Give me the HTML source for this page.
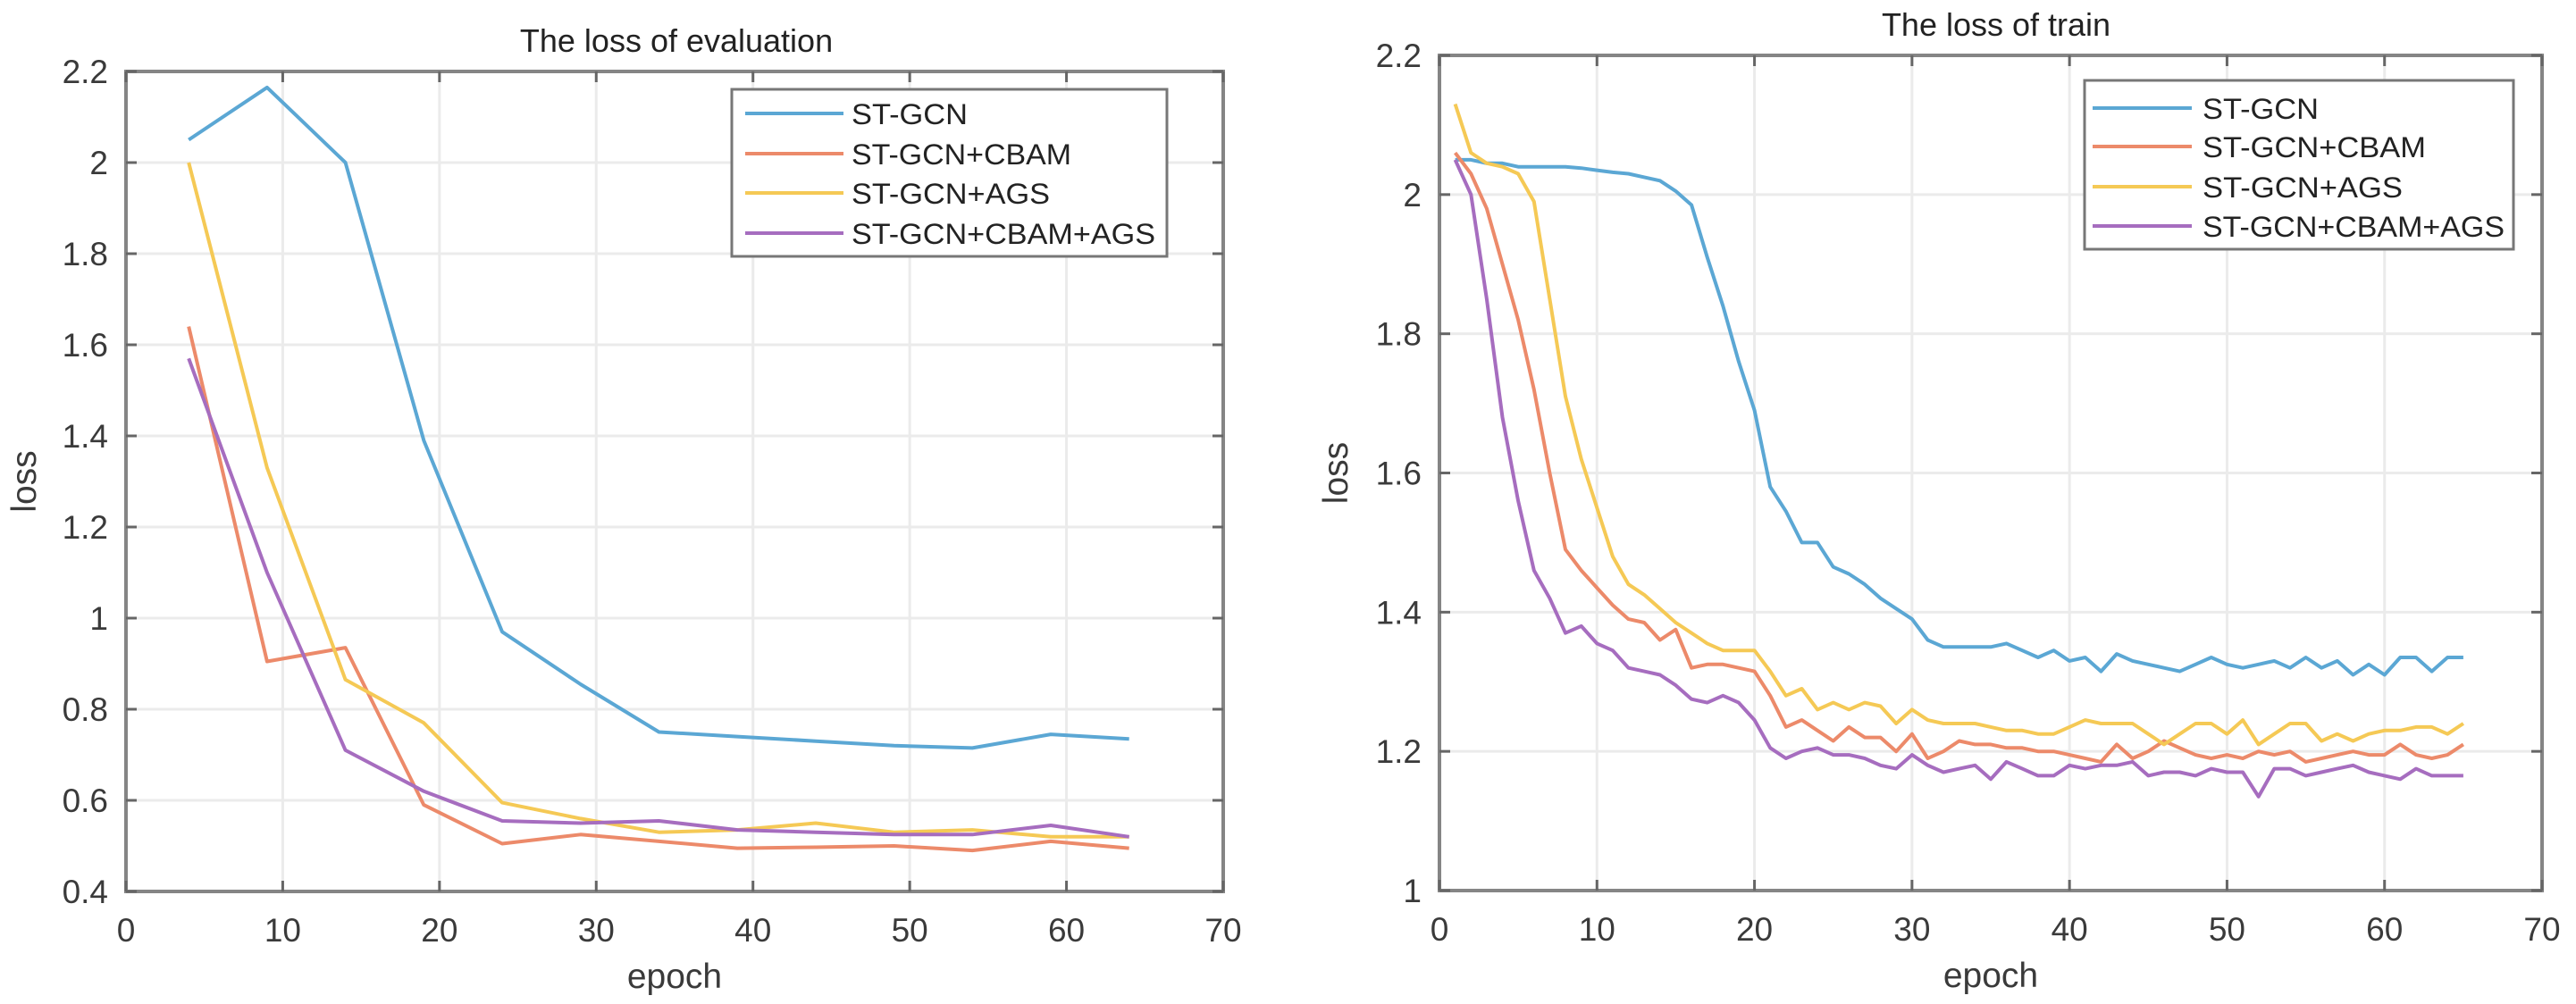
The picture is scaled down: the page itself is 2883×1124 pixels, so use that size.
<!DOCTYPE html>
<html><head><meta charset="utf-8"><style>
html,body{margin:0;padding:0;background:#fff;}
svg{display:block;font-family:"Liberation Sans",sans-serif;}
</style></head>
<body>
<svg id="chart" width="2883" height="1124" viewBox="0 0 2883 1124" xmlns="http://www.w3.org/2000/svg"></svg>
<script>
const seriesNames = ["ST-GCN","ST-GCN+CBAM","ST-GCN+AGS","ST-GCN+CBAM+AGS"];
const seriesColors = ["#5ba7d4","#ec8a6a","#f5c955","#a66dbf"];
const xTicks = [0,10,20,30,40,50,60,70];
const evalYTicks = [0.4,0.6,0.8,1,1.2,1.4,1.6,1.8,2,2.2];
const trainYTicks = [1,1.2,1.4,1.6,1.8,2,2.2];
const evalEpochs = [4,9,14,19,24,29,34,39,44,49,54,59,64];
const evalStgcn = [2.05,2.165,2.0,1.39,0.97,0.855,0.75,0.74,0.73,0.72,0.715,0.745,0.735];
const evalCbam = [1.64,0.905,0.935,0.59,0.505,0.525,0.51,0.495,0.497,0.50,0.49,0.51,0.495];
const evalAgs = [2.0,1.33,0.865,0.77,0.595,0.56,0.53,0.535,0.55,0.53,0.535,0.52,0.52];
const evalCbamAgs = [1.57,1.10,0.71,0.62,0.555,0.55,0.555,0.535,0.53,0.525,0.525,0.545,0.52];
const trainEpochs = [1,2,3,4,5,6,7,8,9,10,11,12,13,14,15,16,17,18,19,20,21,22,23,24,25,26,27,28,29,30,31,32,33,34,35,36,37,38,39,40,41,42,43,44,45,46,47,48,49,50,51,52,53,54,55,56,57,58,59,60,61,62,63,64,65];
const trainStgcn = [2.05,2.05,2.045,2.045,2.04,2.04,2.04,2.04,2.038,2.035,2.032,2.03,2.025,2.02,2.005,1.985,1.91,1.84,1.76,1.69,1.58,1.545,1.50,1.50,1.465,1.455,1.44,1.42,1.405,1.39,1.36,1.35,1.35,1.35,1.35,1.355,1.345,1.335,1.345,1.33,1.335,1.315,1.34,1.33,1.325,1.32,1.315,1.325,1.335,1.325,1.32,1.325,1.33,1.32,1.335,1.32,1.33,1.31,1.325,1.31,1.335,1.335,1.315,1.335,1.335];
const trainCbam = [2.06,2.03,1.98,1.90,1.82,1.72,1.60,1.49,1.46,1.435,1.41,1.39,1.385,1.36,1.375,1.32,1.325,1.325,1.32,1.315,1.28,1.235,1.245,1.23,1.215,1.235,1.22,1.22,1.20,1.225,1.19,1.20,1.215,1.21,1.21,1.205,1.205,1.20,1.20,1.195,1.19,1.185,1.21,1.19,1.20,1.215,1.205,1.195,1.19,1.195,1.19,1.20,1.195,1.20,1.185,1.19,1.195,1.20,1.195,1.195,1.21,1.195,1.19,1.195,1.21];
const trainAgs = [2.13,2.06,2.045,2.04,2.03,1.99,1.85,1.71,1.62,1.55,1.48,1.44,1.425,1.405,1.385,1.37,1.355,1.345,1.345,1.345,1.315,1.28,1.29,1.26,1.27,1.26,1.27,1.265,1.24,1.26,1.245,1.24,1.24,1.24,1.235,1.23,1.23,1.225,1.225,1.235,1.245,1.24,1.24,1.24,1.225,1.21,1.225,1.24,1.24,1.225,1.245,1.21,1.225,1.24,1.24,1.215,1.225,1.215,1.225,1.23,1.23,1.235,1.235,1.225,1.24];
const trainCbamAgs = [2.05,2.0,1.85,1.68,1.56,1.46,1.42,1.37,1.38,1.355,1.345,1.32,1.315,1.31,1.295,1.275,1.27,1.28,1.27,1.245,1.205,1.19,1.20,1.205,1.195,1.195,1.19,1.18,1.175,1.195,1.18,1.17,1.175,1.18,1.16,1.185,1.175,1.165,1.165,1.18,1.175,1.18,1.18,1.185,1.165,1.17,1.17,1.165,1.175,1.17,1.17,1.135,1.175,1.175,1.165,1.17,1.175,1.18,1.17,1.165,1.16,1.175,1.165,1.165,1.165];

const NS="http://www.w3.org/2000/svg";
const svg=document.getElementById('chart');
function mk(tag,attrs,parent){const e=document.createElementNS(NS,tag);for(const k in attrs)e.setAttribute(k,attrs[k]);(parent||svg).appendChild(e);return e;}

function drawPanel(cfg){
  const g=mk('g',{});
  
  
  const xs=v=>cfg.x0+(v-0)/(70-0)*(cfg.x1-cfg.x0);
  const ys=v=>cfg.y1-(v-cfg.ymin)/(cfg.ymax-cfg.ymin)*(cfg.y1-cfg.y0);
  xTicks.forEach(t=>{const l=mk('line',{x1:xs(t),x2:xs(t),y1:cfg.y0,y2:cfg.y1,stroke:'#ebebeb','stroke-width':3},g);
    });
  cfg.yTicks.forEach(t=>{const l=mk('line',{x1:cfg.x0,x2:cfg.x1,y1:ys(t),y2:ys(t),stroke:'#ebebeb','stroke-width':3},g);
    });
  cfg.series.forEach((s,i)=>{
    const pts=s.map((v,j)=>xs(cfg.epochs[j]).toFixed(1)+','+ys(v).toFixed(1)).join(' ');
    const p=mk('polyline',{points:pts,fill:'none',stroke:seriesColors[i],'stroke-width':4,'stroke-linejoin':'round'},g);
    
    
  });
  const fr=mk('rect',{x:cfg.x0,y:cfg.y0,width:cfg.x1-cfg.x0,height:cfg.y1-cfg.y0,fill:'none',stroke:'#858585','stroke-width':4},g);
  
  xTicks.forEach(t=>{
    mk('line',{x1:xs(t),x2:xs(t),y1:cfg.y1,y2:cfg.y1-12,stroke:'#666','stroke-width':3},g);
    mk('line',{x1:xs(t),x2:xs(t),y1:cfg.y0,y2:cfg.y0+12,stroke:'#666','stroke-width':3},g);
    const tx=mk('text',{x:xs(t),y:cfg.y1+56,'font-size':37,fill:'#3a3a3a','text-anchor':'middle'},g);
    tx.textContent=t;
    
  });
  cfg.yTicks.forEach(t=>{
    mk('line',{x1:cfg.x0,x2:cfg.x0+12,y1:ys(t),y2:ys(t),stroke:'#666','stroke-width':3},g);
    mk('line',{x1:cfg.x1,x2:cfg.x1-12,y1:ys(t),y2:ys(t),stroke:'#666','stroke-width':3},g);
    const tx=mk('text',{x:cfg.x0-20,y:ys(t)+13,'font-size':37,fill:'#3a3a3a','text-anchor':'end'},g);
    tx.textContent=String(t);
    
  });
  const title=mk('text',{x:cfg.tx,y:cfg.ty,'font-size':36,fill:'#222','text-anchor':'middle'},g);
  title.textContent=cfg.title;
  
  const xl=mk('text',{x:(cfg.x0+cfg.x1)/2,y:cfg.y1+108,'font-size':39,fill:'#3a3a3a','text-anchor':'middle'},g);
  xl.textContent='epoch';
  
  const yl=mk('text',{x:cfg.ylx,y:(cfg.y0+cfg.y1)/2,'font-size':39,fill:'#3a3a3a','text-anchor':'middle',transform:'rotate(-90 '+cfg.ylx+' '+(cfg.y0+cfg.y1)/2+')'},g);
  yl.textContent='loss';
  
  const L=cfg.legend;
  const lg=mk('g',{},g);
  
  mk('rect',{x:L.x,y:L.y,width:L.w,height:L.h,fill:'#fff',stroke:'#777','stroke-width':3},lg);
  seriesNames.forEach((n,i)=>{
    const ry=L.rows[i];
    const e=mk('g',{},lg);
    
    mk('line',{x1:L.lx0,x2:L.lx1,y1:ry,y2:ry,stroke:seriesColors[i],'stroke-width':4},e);
    const t=mk('text',{x:L.tx,y:ry+12,'font-size':32,fill:'#222',textLength:L.tl[i],lengthAdjust:'spacingAndGlyphs'},e);
    t.textContent=n;
  });
}

drawPanel({name:'evaluation-loss-chart',title:'The loss of evaluation',x0:141,x1:1369,y0:80,y1:998,ymin:0.4,ymax:2.2,yTicks:evalYTicks,
  epochs:evalEpochs,series:[evalStgcn,evalCbam,evalAgs,evalCbamAgs],tx:757,ty:58,ylx:40,
  legend:{x:819,y:100,w:487,h:187,lx0:834,lx1:944,tx:953,rows:[127,172,216,261],tl:[130,246,222,340]}});
drawPanel({name:'train-loss-chart',title:'The loss of train',x0:1611,x1:2845,y0:62,y1:997,ymin:1,ymax:2.2,yTicks:trainYTicks,
  epochs:trainEpochs,series:[trainStgcn,trainCbam,trainAgs,trainCbamAgs],tx:2234,ty:40,ylx:1508,
  legend:{x:2333,y:90,w:480,h:189,lx0:2342,lx1:2453,tx:2465,rows:[121,164,209,253],tl:[130,250,224,338]}});
</script>
</body></html>
